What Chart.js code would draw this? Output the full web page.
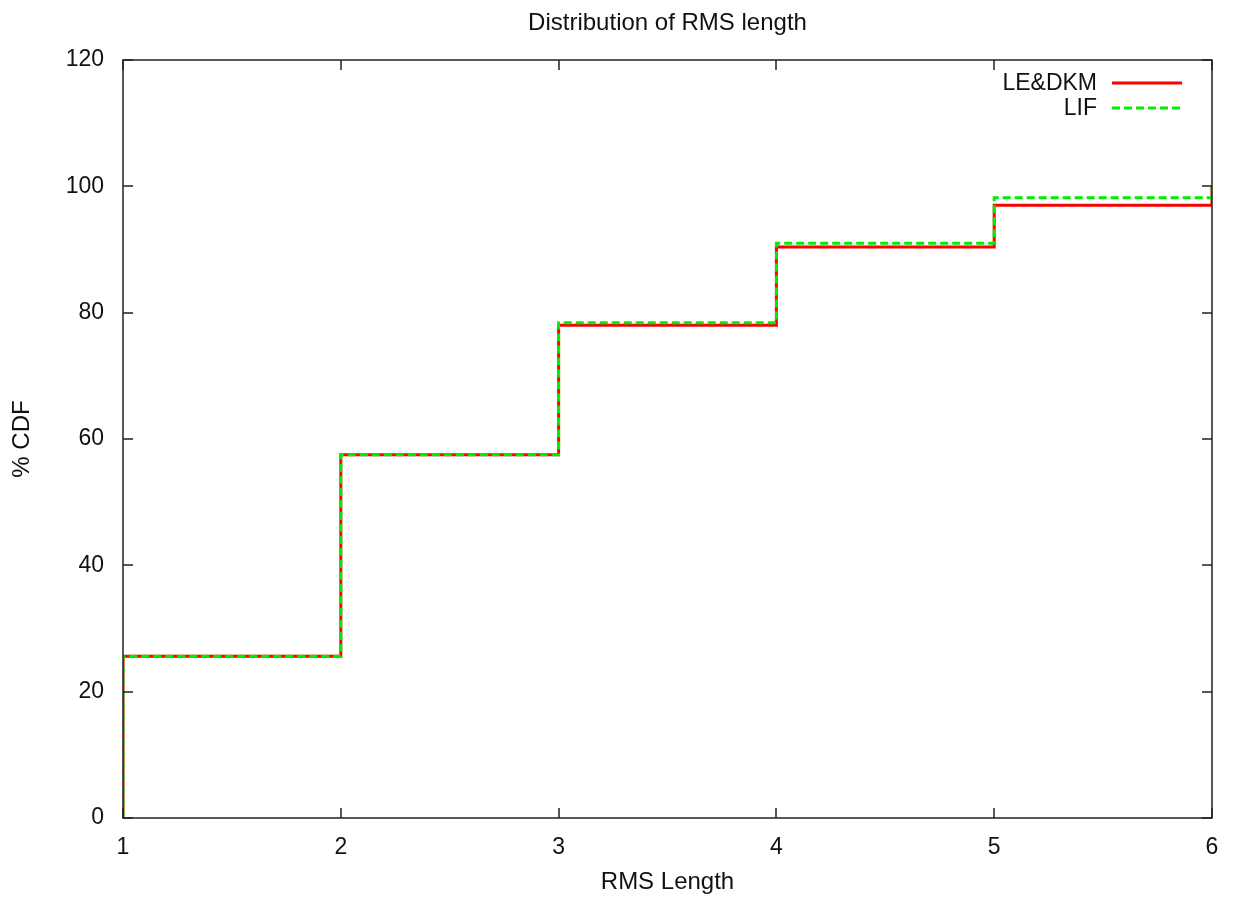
<!DOCTYPE html>
<html>
<head>
<meta charset="utf-8">
<script src="https://cdn.jsdelivr.net/npm/chart.js@4/dist/chart.umd.min.js"></script>
<style>
html,body{margin:0;padding:0;background:#fff;}
#wrap{width:1233px;height:897px;}
</style>
</head>
<body>
<div id="wrap"><canvas id="c" width="1233" height="897"></canvas></div>
<script>
// ---- data ----
const rmsLength = [1, 1, 2, 3, 4, 5, 6];
const leDkmCdf  = [0, 25.6, 57.5, 78.0, 90.4, 97.0, 100];
const lifCdf    = [0, 25.6, 57.5, 78.4, 91.0, 98.2, 100];
const xTicks = [1, 2, 3, 4, 5, 6];
const yTicks = [0, 20, 40, 60, 80, 100, 120];
const seriesNames = ['LE&DKM', 'LIF'];
const chartTitle = 'Distribution of RMS length';
const xTitle = 'RMS Length';
const yTitle = '% CDF';

const FONT = "'Liberation Sans', Arial, sans-serif";

function pts(xs, ys){ return xs.map((x,i)=>({x:x, y:ys[i]})); }

const framePlugin = {
  id: 'frame',
  afterDatasetsDraw(chart){
    const ctx = chart.ctx, a = chart.chartArea;
    const xs = chart.scales.x, ys = chart.scales.y;
    ctx.save();
    ctx.strokeStyle = '#222';
    ctx.lineWidth = 1.5;
    ctx.strokeRect(a.left, a.top, a.right - a.left, a.bottom - a.top);
    const L = 10;
    ctx.beginPath();
    xTicks.forEach(v=>{
      const px = Math.round(xs.getPixelForValue(v));
      ctx.moveTo(px, a.bottom); ctx.lineTo(px, a.bottom - L);
      ctx.moveTo(px, a.top); ctx.lineTo(px, a.top + L);
    });
    yTicks.forEach(v=>{
      const py = Math.round(ys.getPixelForValue(v));
      ctx.moveTo(a.left, py); ctx.lineTo(a.left + L, py);
      ctx.moveTo(a.right, py); ctx.lineTo(a.right - L, py);
    });
    ctx.stroke();
    // title, centred over the plot area
    ctx.fillStyle = '#111';
    ctx.font = "24px " + FONT;
    ctx.textAlign = 'center';
    ctx.textBaseline = 'middle';
    ctx.fillText(chartTitle, (a.left + a.right) / 2, 23);
    // legend
    ctx.font = "23px " + FONT;
    ctx.textAlign = 'right';
    const tx = 1097, lx0 = 1112, lx1 = 1182;
    const rows = [84, 109];
    const ds = chart.data.datasets;
    rows.forEach((y,i)=>{
      ctx.fillText(seriesNames[i], tx, y);
      ctx.beginPath();
      ctx.strokeStyle = ds[i].borderColor;
      ctx.lineWidth = 3;
      ctx.setLineDash(ds[i].borderDash || []);
      ctx.moveTo(lx0, y - 1); ctx.lineTo(lx1, y - 1);
      ctx.stroke();
      ctx.setLineDash([]);
    });
    ctx.restore();
  }
};

new Chart(document.getElementById('c'), {
  type: 'line',
  data: {
    datasets: [
      { label: seriesNames[0], data: pts(rmsLength, leDkmCdf), borderColor: '#ff0000',
        borderWidth: 3, stepped: 'before', pointRadius: 0, fill: false, order: 1 },
      { label: seriesNames[1], data: pts(rmsLength, lifCdf), borderColor: '#00ee00',
        borderWidth: 3, borderDash: [8, 4], stepped: 'before', pointRadius: 0, fill: false, order: 0 }
    ]
  },
  options: {
    responsive: false,
    animation: false,
    layout: { padding: { left: 0, right: 21, top: 60, bottom: 0 } },
    plugins: {
      legend: { display: false },
      tooltip: { enabled: false },
      title: { display: false }
    },
    scales: {
      x: {
        type: 'linear', min: 1, max: 6,
        grid: { display: false }, border: { display: false },
        ticks: { stepSize: 1, color: '#111', padding: 8, font: { family: FONT, size: 23 } },
        title: { display: true, text: xTitle, color: '#111', font: { family: FONT, size: 24 }, padding: { top: 1, bottom: 0 } },
        afterFit(s){ s.height = 79; }
      },
      y: {
        min: 0, max: 120,
        grid: { display: false }, border: { display: false },
        ticks: { stepSize: 20, color: '#111', padding: 11, font: { family: FONT, size: 23 } },
        title: { display: true, text: yTitle, color: '#111', font: { family: FONT, size: 24 }, padding: { top: 8, bottom: 0 } },
        afterFit(s){ s.width = 123; }
      }
    }
  },
  plugins: [framePlugin]
});
</script>
</body>
</html>
